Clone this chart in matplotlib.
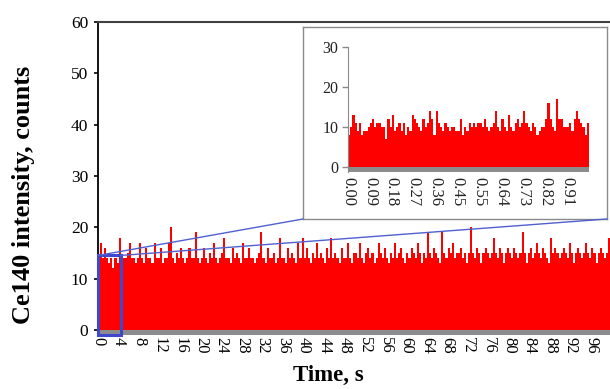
import numpy as np
import matplotlib.pyplot as plt
from matplotlib.patches import Rectangle, ConnectionPatch

plt.rcParams['font.family'] = ['Liberation Serif', 'DejaVu Serif']

# ── Data ──────────────────────────────────────────────────────────────────
main_bin = 0.4   # s per bar in the full trace
main_counts = [
    14, 17, 14, 16, 14, 13, 14, 12, 14, 13, 18, 14, 14, 14, 15, 17, 14, 14, 13, 14, 17, 14, 13, 16, 14,
    14, 13, 17, 14, 14, 16, 13, 14, 14, 17, 20, 14, 13, 15, 14, 16, 14, 13, 14, 16, 14, 14, 19, 14, 13,
    14, 16, 14, 13, 15, 14, 17, 14, 13, 14, 15, 18, 14, 14, 13, 16, 14, 15, 14, 13, 17, 14, 14, 16, 14,
    14, 13, 14, 15, 19, 14, 13, 16, 14, 14, 15, 13, 14, 18, 14, 14, 13, 16, 14, 15, 14, 13, 17, 14, 18,
    14, 16, 14, 13, 15, 14, 17, 14, 15, 14, 13, 16, 14, 18, 14, 15, 14, 13, 16, 14, 14, 17, 14, 13, 15,
    15, 14, 17, 14, 13, 15, 16, 14, 15, 13, 14, 17, 15, 14, 16, 14, 13, 15, 14, 17, 14, 15, 16, 14, 13,
    15, 14, 16, 15, 14, 17, 15, 13, 15, 14, 19, 15, 14, 16, 15, 14, 13, 19, 15, 14, 16, 15, 17, 14, 15,
    15, 16, 14, 15, 13, 15, 20, 15, 14, 16, 15, 13, 15, 16, 15, 14, 15, 18, 15, 14, 16, 15, 13, 15, 16,
    15, 14, 16, 15, 14, 15, 19, 15, 13, 15, 16, 14, 15, 17, 15, 14, 16, 15, 14, 13, 18, 15, 16, 15, 14,
    15, 16, 15, 14, 17, 15, 13, 15, 16, 15, 14, 15, 17, 15, 14, 16, 15, 13, 15, 16, 15, 14, 15, 18, 15,
]
main_ticks = list(range(0, 100, 4))

inset_bin = 1 / 110   # s per bar in the zoomed first second
inset_counts = [
    8, 10, 13, 11, 9, 11, 8, 9, 9, 10,
    11, 12, 10, 11, 11, 10, 10, 7, 12, 10,
    13, 9, 10, 11, 9, 11, 8, 10, 9, 13,
    12, 11, 10, 9, 12, 10, 11, 14, 12, 8,
    14, 11, 10, 9, 11, 10, 9, 10, 10, 9,
    9, 12, 8, 10, 9, 11, 10, 11, 10, 11,
    11, 10, 12, 10, 9, 10, 11, 14, 10, 9,
    12, 10, 9, 13, 10, 9, 11, 12, 10, 11,
    14, 11, 10, 9, 11, 10, 8, 9, 10, 10,
    12, 16, 12, 10, 9, 17, 12, 12, 10, 10,
    10, 11, 9, 12, 14, 12, 11, 10, 8, 11,
]
inset_labels = ["0.00", "0.09", "0.18", "0.27", "0.36", "0.45",
                "0.55", "0.64", "0.73", "0.82", "0.91"]

zoom_t0, zoom_t1, zoom_top = 0.0, 4.4, 14.5

RED = '#FF0000'
GRAY = '#8C8C8C'
BLUE = '#3F48CC'

# ── Figure ────────────────────────────────────────────────────────────────
fig = plt.figure(figsize=(6.1, 3.89), dpi=100)
W, H = 610, 389

def px(l, t, r, b):
    return [l / W, 1 - b / H, (r - l) / W, (b - t) / H]

ax = fig.add_axes(px(98, 22, 612, 335))
edges = np.arange(len(main_counts) + 1) * main_bin
ax.stairs(main_counts, edges, fill=True, color=RED, baseline=0, lw=0)
ax.axhspan(-1, 0, color=GRAY, lw=0)
ax.set_xlim(0, 100)
ax.set_ylim(-1, 60)
ax.set_yticks(range(0, 61, 10))
ax.set_xticks(main_ticks)
ax.set_xticklabels([str(t) for t in main_ticks], rotation=-90)
ax.tick_params(axis='x', length=0, pad=1.5, labelsize=12)
ax.tick_params(axis='y', length=3, width=1.2, pad=4, labelsize=12.5, direction='out')
for s in ['right', 'bottom']:
    ax.spines[s].set_visible(False)
ax.spines['left'].set_linewidth(1.3)
ax.spines['top'].set_color('#404040')
ax.spines['top'].set_linewidth(1.5)

ax.add_patch(Rectangle((zoom_t0, -1), zoom_t1 - zoom_t0, zoom_top + 1,
                       fill=False, edgecolor=BLUE, lw=2.2, zorder=5, clip_on=False))

fig.text(0.038, 0.5, "Ce140 intensity, counts", rotation=90, ha='center', va='center',
         fontsize=19, fontweight='bold')
fig.text(0.538, 0.008, "Time, s", ha='center', va='bottom', fontsize=16.5, fontweight='bold')

# ── Inset ─────────────────────────────────────────────────────────────────
frame = fig.add_axes(px(303, 27, 607, 219))
frame.set_xticks([])
frame.set_yticks([])
for s in frame.spines.values():
    s.set_color('#8A8A8A')
    s.set_linewidth(1.0)

ins = fig.add_axes(px(348, 47, 589, 172))
ins.set_facecolor('none')
in_edges = np.arange(len(inset_counts) + 1) * inset_bin
ins.stairs(inset_counts, in_edges, fill=True, color=RED, baseline=0, lw=0)
ins.axhspan(-1.25, 0, color=GRAY, lw=0)
ins.set_xlim(0, in_edges[-1])
ins.set_ylim(-1.25, 30)
ins.set_yticks([0, 10, 20, 30])
ins.set_xticks([k * 10 * inset_bin for k in range(len(inset_labels))])
ins.set_xticklabels(inset_labels, rotation=-90)
ins.tick_params(axis='x', length=0, pad=3.5, labelsize=12, labelcolor='#222222')
ins.tick_params(axis='y', length=4, width=1, color='#8A8A8A', pad=3, labelsize=11.5,
                labelcolor='#222222')
for s in ['right', 'bottom', 'top']:
    ins.spines[s].set_visible(False)
ins.spines['left'].set_color('#8A8A8A')

# ── Zoom connector lines ──────────────────────────────────────────────────
for xa, xb in [(zoom_t0, 0), (zoom_t1, 1)]:
    con = ConnectionPatch(xyA=(xa, zoom_top), coordsA=ax.transData,
                          xyB=(xb, 0), coordsB=frame.transAxes,
                          color='#5060D0', lw=1.0, zorder=6)
    fig.add_artist(con)

fig.savefig("out.png", dpi=100)
